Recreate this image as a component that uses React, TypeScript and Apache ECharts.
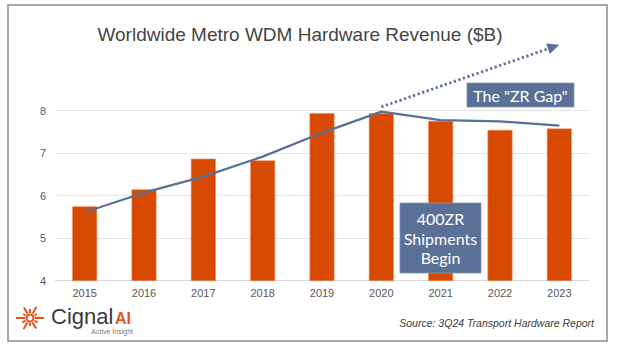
import React, { useEffect, useRef } from "react";
import * as echarts from "echarts";

const years = ["2015", "2016", "2017", "2018", "2019", "2020", "2021", "2022", "2023"];
const revenue = [5.75, 6.15, 6.87, 6.83, 7.94, 7.94, 7.76, 7.55, 7.58];
const trend = [5.61, 6.07, 6.45, 6.92, 7.48, 7.98, 7.78, 7.75, 7.65];
const yTicks = [4, 5, 6, 7, 8];
// dotted "potential" arrow: [category index, value]
const arrowStart = [5.14, 8.09];
const arrowEnd = [8.0, 9.55];

const titleText = "Worldwide Metro WDM Hardware Revenue ($B)";
const sourceText = "Source: 3Q24 Transport Hardware Report";

const ORANGE = "#D84A02";
const SLATE = "#5B7096";
const LOGO_OR = "#E5531B";

function logoGraphics() {
  const cx = 30;
  const cy = 318;
  const rays: any[] = [];
  const lens = [14, 9, 12, 8, 13, 9, 14, 8, 12, 9, 13, 8];
  for (let i = 0; i < lens.length; i++) {
    const a = (i * 30 * Math.PI) / 180;
    rays.push({
      type: "line",
      shape: {
        x1: cx + Math.cos(a) * 5,
        y1: cy + Math.sin(a) * 5,
        x2: cx + Math.cos(a) * lens[i],
        y2: cy + Math.sin(a) * lens[i],
      },
      style: { stroke: LOGO_OR, lineWidth: 2 },
    });
  }
  rays.push({
    type: "circle",
    shape: { cx, cy, r: 3.5 },
    style: { fill: "#fff", stroke: LOGO_OR, lineWidth: 2 },
  });
  return rays;
}

export default function App() {
  const ref = useRef<HTMLDivElement>(null);
  useEffect(() => {
    if (!ref.current) return;
    const chart = echarts.init(ref.current, undefined, { renderer: "svg" });
    const baseFont = "'Liberation Sans', Arial, sans-serif";
    chart.setOption({
      animation: false,
      backgroundColor: "#ffffff",
      grid: { left: 55, right: 35, top: 110.7, bottom: 67.3, containLabel: false },
      xAxis: {
        type: "category",
        data: years,
        axisLine: { show: true, lineStyle: { color: "#d9d9d9", width: 1 } },
        axisTick: { show: false },
        axisLabel: { color: "#595959", fontSize: 11, fontFamily: baseFont, margin: 7 },
      },
      yAxis: {
        type: "value",
        min: yTicks[0],
        max: yTicks[yTicks.length - 1],
        interval: 1,
        axisLine: { show: false },
        axisTick: { show: false },
        splitLine: { lineStyle: { color: "#e6e6e6", width: 1 } },
        axisLabel: { color: "#595959", fontSize: 11, fontFamily: baseFont, margin: 9 },
      },
      series: [
        {
          type: "bar",
          data: revenue,
          barWidth: "42%",
          itemStyle: { color: ORANGE, borderColor: "#EC8A5C", borderWidth: 0.6 },
          z: 2,
        },
        {
          type: "line",
          data: trend,
          symbol: "none",
          lineStyle: { color: SLATE, width: 2.3 },
          z: 3,
        },
      ],
    });

    const p0 = chart.convertToPixel({ xAxisIndex: 0, yAxisIndex: 0 }, arrowStart) as number[];
    const p1 = chart.convertToPixel({ xAxisIndex: 0, yAxisIndex: 0 }, arrowEnd) as number[];
    const dx = p1[0] - p0[0];
    const dy = p1[1] - p0[1];
    const len = Math.sqrt(dx * dx + dy * dy);
    const ux = dx / len;
    const uy = dy / len;
    const headLen = 12;
    const headHalf = 5.5;
    const bx = p1[0] - ux * headLen;
    const by = p1[1] - uy * headLen;
    const ZT = 100;

    chart.setOption({
      graphic: [
        {
          type: "rect",
          shape: { x: 8, y: 5, width: 599, height: 336 },
          style: { fill: "none", stroke: "#8c8c8c", lineWidth: 1.5 },
          silent: true,
          z: ZT,
        },
        {
          type: "text",
          x: 300,
          y: 34,
          z: ZT,
          style: {
            text: titleText,
            fill: "#454545",
            font: `19px ${baseFont}`,
            textAlign: "center",
            textVerticalAlign: "middle",
          },
        },
        {
          type: "line",
          z: ZT,
          shape: { x1: p0[0], y1: p0[1], x2: bx, y2: by },
          style: { stroke: SLATE, lineWidth: 2.8, lineDash: [2.2, 2.6] },
        },
        {
          type: "polygon",
          z: ZT,
          shape: {
            points: [
              [p1[0], p1[1]],
              [bx - uy * headHalf, by + ux * headHalf],
              [bx + uy * headHalf, by - ux * headHalf],
            ],
          },
          style: { fill: SLATE },
        },
        {
          type: "rect",
          z: ZT,
          shape: { x: 467, y: 83, width: 107, height: 24 },
          style: { fill: SLATE, stroke: "#8496b4", lineWidth: 0.8 },
        },
        {
          type: "text",
          z: ZT + 1,
          x: 520.5,
          y: 95.5,
          style: {
            text: 'The "ZR Gap"',
            fill: "#ffffff",
            font: "16px Lato, 'Open Sans', sans-serif",
            textAlign: "center",
            textVerticalAlign: "middle",
          },
        },
        {
          type: "rect",
          z: ZT,
          shape: { x: 400, y: 203, width: 81, height: 70 },
          style: { fill: SLATE, stroke: "#8496b4", lineWidth: 0.8 },
        },
        {
          type: "text",
          z: ZT + 1,
          x: 440.5,
          y: 238,
          style: {
            text: "400ZR\nShipments\nBegin",
            fill: "#ffffff",
            font: "16px Lato, 'Open Sans', sans-serif",
            lineHeight: 19.5,
            textAlign: "center",
            textVerticalAlign: "middle",
          },
        },
        ...logoGraphics().map((g) => ({ ...g, z: ZT })),
        {
          type: "text",
          z: ZT,
          x: 51,
          y: 327,
          style: {
            text: "Cignal",
            fill: "#3b3b3b",
            font: `22px ${baseFont}`,
            textAlign: "left",
            textVerticalAlign: "bottom",
          },
        },
        {
          type: "text",
          z: ZT,
          x: 115,
          y: 326,
          style: {
            text: "AI",
            fill: LOGO_OR,
            font: `bold 16px ${baseFont}`,
            textAlign: "left",
            textVerticalAlign: "bottom",
          },
        },
        {
          type: "text",
          z: ZT,
          x: 133,
          y: 331,
          style: {
            text: "Active Insight",
            fill: "#7a7a7a",
            font: `7px ${baseFont}`,
            textAlign: "right",
            textVerticalAlign: "middle",
          },
        },
        {
          type: "text",
          z: ZT,
          x: 594,
          y: 323,
          style: {
            text: sourceText,
            fill: "#404040",
            font: `italic 10.5px ${baseFont}`,
            textAlign: "right",
            textVerticalAlign: "middle",
          },
        },
      ],
    });

    return () => chart.dispose();
  }, []);

  return (
    <div
      ref={ref}
      style={{ position: "fixed", left: 0, top: 0, width: 624, height: 348, background: "#fff" }}
    />
  );
}
